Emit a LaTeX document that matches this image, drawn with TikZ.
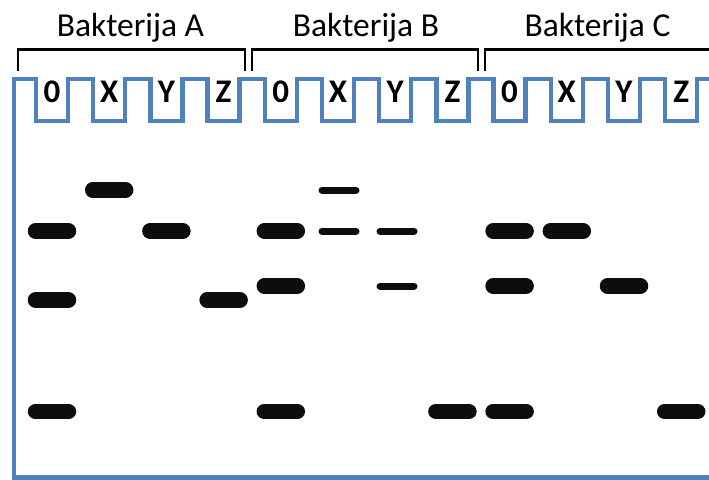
\documentclass[tikz,border=0pt]{standalone}
\usepackage{fontspec}
\setmainfont{Carlito}
\definecolor{gelblue}{HTML}{4F81BD}
\definecolor{bandink}{HTML}{0D0D0D}
\tikzset{
  gelline/.style={draw=gelblue, line width=4.5pt, line join=miter},
  bracketline/.style={draw=black, line width=2.6pt, line join=miter},
  thickband/.style={draw=bandink, line width=15.5pt, line cap=round},
  thinband/.style={draw=bandink, line width=7pt, line cap=round},
  grouplabel/.style={font=\fontsize{33.5}{33.5}\selectfont, anchor=base, inner sep=0pt},
  lanelabel/.style={font=\fontsize{33}{33}\selectfont\bfseries, anchor=base, inner sep=0pt},
}
% lane centre: 52 + 57.2*i
\newcommand{\lanex}[1]{52+57.2*#1}
\begin{document}
\begin{tikzpicture}[x=1pt, y=-1pt]
\useasboundingbox (0,0) rectangle (709,479);
\fill[white] (0,0) rectangle (709,479);

% gel outline with comb wells
\draw[gelline] (715,477.5) -- (14,477.5) -- (14,79)
  \foreach \i in {0,...,11}{
    -- ({\lanex{\i}-16},79) -- ({\lanex{\i}-16},121)
    -- ({\lanex{\i}+16},121) -- ({\lanex{\i}+16},79)
  } -- (715,79);

% group brackets
\draw[bracketline] (18,71) -- (18,49.5) -- (245,49.5) -- (245,71);
\draw[bracketline] (252,71) -- (252,49.5) -- (478,49.5) -- (478,71);
\draw[bracketline] (485,71) -- (485,49.5) -- (715,49.5);

% group names
\node[grouplabel] (grpA) at (130.5,36) {Bakterija A};
\node[grouplabel] (grpB) at (366,36) {Bakterija B};
\node[grouplabel] (grpC) at (597.5,36) {Bakterija C};

% lane names
\foreach \g [count=\gi from 0] in {A,B,C}{
  \foreach \l [count=\li from 0] in {0,X,Y,Z}{
    \pgfmathsetmacro{\xx}{\lanex{(4*\gi+\li)}}
    \node[lanelabel] (lane\g\l) at (\xx,102.5) {\l};
  }
}

% bands: thick (lane index, row y)
\foreach \i/\yy in {0/231, 0/300, 0/411.5,
                    1/190, 2/231, 3/300,
                    4/231, 4/286, 4/411.5, 7/411.5,
                    8/231, 8/286, 8/411.5, 9/231, 10/286, 11/411.5}{
  \draw[thickband] ({\lanex{\i}-16.5},\yy) -- ({\lanex{\i}+16.5},\yy);
}
% faint bands
\foreach \x/\yy in {339/190, 339/231, 397/231, 397/286}{
  \draw[thinband] ({\x-17},\yy) -- ({\x+17},\yy);
}
\end{tikzpicture}
\end{document}
